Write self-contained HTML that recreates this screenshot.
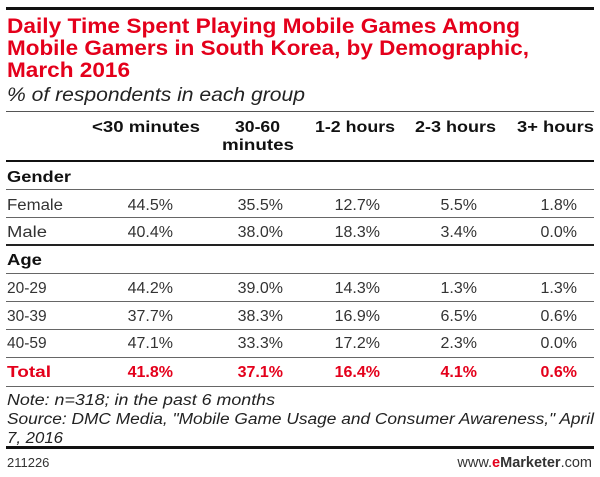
<!DOCTYPE html>
<html><head><meta charset="utf-8"><style>
body{margin:0;width:600px;height:477px;background:#fff;overflow:hidden}
svg{display:block}
text{font-family:"Liberation Sans",sans-serif;white-space:pre}
.t{fill:#e4001b;font-weight:bold;font-size:21px}
.h{font-weight:bold;font-size:15.5px;fill:#111}
.r{font-size:15.5px;fill:#333}
.v{font-size:16px;fill:#333;text-anchor:end}
.tot{fill:#e4001b;font-weight:bold}
.n{font-style:italic;font-size:15.5px;fill:#222}
</style></head><body>
<svg width="600" height="477" viewBox="0 0 600 477">
<rect x="6" y="7" width="588" height="3" fill="#111"/>
<text class="t" x="7" y="33" textLength="513" lengthAdjust="spacingAndGlyphs">Daily Time Spent Playing Mobile Games Among</text>
<text class="t" x="7" y="55" textLength="522" lengthAdjust="spacingAndGlyphs">Mobile Gamers in South Korea, by Demographic,</text>
<text class="t" x="7" y="77" textLength="123" lengthAdjust="spacingAndGlyphs">March 2016</text>
<text x="7" y="101" font-size="19" font-style="italic" fill="#222" textLength="298" lengthAdjust="spacingAndGlyphs">% of respondents in each group</text>
<rect x="6" y="111" width="588" height="1" fill="#555"/>
<text class="h" x="92" y="132" textLength="108" lengthAdjust="spacingAndGlyphs">&lt;30 minutes</text>
<text class="h" x="235" y="132" textLength="45" lengthAdjust="spacingAndGlyphs">30-60</text>
<text class="h" x="222" y="150" textLength="72" lengthAdjust="spacingAndGlyphs">minutes</text>
<text class="h" x="315" y="132" textLength="80" lengthAdjust="spacingAndGlyphs">1-2 hours</text>
<text class="h" x="415" y="132" textLength="81" lengthAdjust="spacingAndGlyphs">2-3 hours</text>
<text class="h" x="517" y="132" textLength="77" lengthAdjust="spacingAndGlyphs">3+ hours</text>
<rect x="6" y="160" width="588" height="2" fill="#111"/>
<text class="h" x="7" y="182" textLength="64" lengthAdjust="spacingAndGlyphs">Gender</text>
<rect x="6" y="189" width="588" height="1" fill="#666"/>
<rect x="6" y="217" width="588" height="1" fill="#666"/>
<rect x="6" y="244" width="588" height="2" fill="#222"/>
<text class="h" x="7" y="265" textLength="35" lengthAdjust="spacingAndGlyphs">Age</text>
<rect x="6" y="273" width="588" height="1" fill="#666"/>
<rect x="6" y="301" width="588" height="1" fill="#666"/>
<rect x="6" y="329" width="588" height="1" fill="#666"/>
<rect x="6" y="357" width="588" height="1" fill="#666"/>
<rect x="6" y="386" width="588" height="1" fill="#666"/>

<text class="r" x="7" y="210" textLength="56" lengthAdjust="spacingAndGlyphs">Female</text>
<text class="v" x="173" y="210">44.5%</text><text class="v" x="283" y="210">35.5%</text><text class="v" x="380" y="210">12.7%</text><text class="v" x="477" y="210">5.5%</text><text class="v" x="577" y="210">1.8%</text>
<text class="r" x="7" y="237" textLength="40" lengthAdjust="spacingAndGlyphs">Male</text>
<text class="v" x="173" y="237">40.4%</text><text class="v" x="283" y="237">38.0%</text><text class="v" x="380" y="237">18.3%</text><text class="v" x="477" y="237">3.4%</text><text class="v" x="577" y="237">0.0%</text>
<text class="r" x="7" y="293">20-29</text>
<text class="v" x="173" y="293">44.2%</text><text class="v" x="283" y="293">39.0%</text><text class="v" x="380" y="293">14.3%</text><text class="v" x="477" y="293">1.3%</text><text class="v" x="577" y="293">1.3%</text>
<text class="r" x="7" y="321">30-39</text>
<text class="v" x="173" y="321">37.7%</text><text class="v" x="283" y="321">38.3%</text><text class="v" x="380" y="321">16.9%</text><text class="v" x="477" y="321">6.5%</text><text class="v" x="577" y="321">0.6%</text>
<text class="r" x="7" y="348">40-59</text>
<text class="v" x="173" y="348">47.1%</text><text class="v" x="283" y="348">33.3%</text><text class="v" x="380" y="348">17.2%</text><text class="v" x="477" y="348">2.3%</text><text class="v" x="577" y="348">0.0%</text>
<text class="r tot" x="7" y="377" font-size="16.5" textLength="44" lengthAdjust="spacingAndGlyphs">Total</text>
<text class="v tot" x="173" y="377">41.8%</text><text class="v tot" x="283" y="377">37.1%</text><text class="v tot" x="380" y="377">16.4%</text><text class="v tot" x="477" y="377">4.1%</text><text class="v tot" x="577" y="377">0.6%</text>

<text class="n" x="7" y="405" textLength="268" lengthAdjust="spacingAndGlyphs">Note: n=318; in the past 6 months</text>
<text class="n" x="7" y="424" textLength="587" lengthAdjust="spacingAndGlyphs">Source: DMC Media, "Mobile Game Usage and Consumer Awareness," April</text>
<text class="n" x="7" y="443" textLength="56" lengthAdjust="spacingAndGlyphs">7, 2016</text>
<rect x="6" y="446" width="588" height="3" fill="#111"/>
<text x="7" y="467" font-size="13" fill="#333">211226</text>
<text x="592" y="467" font-size="14.5" fill="#333" text-anchor="end">www.<tspan fill="#e4001b" font-weight="bold">e</tspan><tspan font-weight="bold">Marketer</tspan>.com</text>
</svg>
</body></html>
